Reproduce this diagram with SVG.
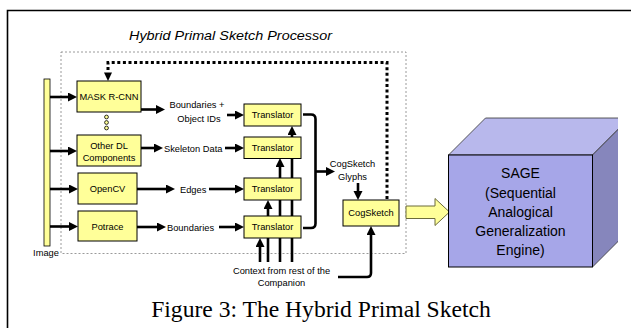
<svg xmlns="http://www.w3.org/2000/svg" width="631" height="328" viewBox="0 0 631 328">
<style>
.box{fill:#FFFF99;stroke:#000;stroke-width:1}
.t{font-family:"Liberation Sans",Arial,sans-serif;font-size:9.3px;fill:#000}
.c{text-anchor:middle}
.ar{fill:none;stroke:#000;stroke-width:2.6;marker-end:url(#ah)}
.ln{fill:none;stroke:#000;stroke-width:2.6}
.sage{font-family:"Liberation Sans",Arial,sans-serif;font-size:14px;text-anchor:middle;fill:#000}
</style>
<defs>
<marker id="ah" markerUnits="userSpaceOnUse" markerWidth="10" markerHeight="10" refX="1" refY="4.5" orient="auto">
<path d="M0,0 L9,4.5 L0,9 z" fill="#000"/>
</marker>
<marker id="ahs" markerUnits="userSpaceOnUse" markerWidth="9" markerHeight="9" refX="1" refY="3.75" orient="auto">
<path d="M0,0 L8,3.75 L0,7.5 z" fill="#000"/>
</marker>
<clipPath id="cubeclip"><rect x="440" y="100" width="178" height="180"/></clipPath>
</defs>
<rect x="0" y="0" width="631" height="328" fill="#fff"/>
<path d="M7.5,330 V10.5 H633" fill="none" stroke="#000" stroke-width="1.6"/>
<text x="129" y="39.5" font-family="'Liberation Sans',Arial,sans-serif" font-size="13.5" font-style="italic" textLength="203" lengthAdjust="spacingAndGlyphs">Hybrid Primal Sketch Processor</text>
<rect id="processor" x="61" y="52" width="345" height="201.5" fill="none" stroke="#808080" stroke-width="0.8" stroke-dasharray="2,2"/>

<g id="connectors">
<!-- from image bar -->
<path class="ar" d="M50,97 H69"/>
<path class="ar" d="M50,151 H69"/>
<path class="ar" d="M50,189 H70"/>
<path class="ar" d="M50,226.5 H70"/>
<!-- outputs of detectors -->
<path class="ar" d="M141,109.5 H157"/>
<path class="ar" d="M141,148 H155"/>
<path class="ar" d="M137,189 H167"/>
<path class="ar" d="M137,227 H158"/>
<!-- into translators -->
<path class="ar" d="M227,115 H236"/>
<path class="ar" d="M225,148 H236"/>
<path class="ar" d="M209,189 H236"/>
<path class="ar" d="M219,227 H236"/>
<!-- context lines from the bottom -->
<path class="ar" d="M260,262 V246"/>
<path class="ar" d="M268,262 V208"/>
<path class="ar" d="M280,262 V166"/>
<path class="ar" d="M292,262 V134"/>
<!-- brace to glyphs -->
<path class="ln" d="M303,114.5 H311 Q315.5,114.5 315.5,119 V223.5 Q315.5,228 311,228 H303"/>
<path class="ar" d="M315.5,171.5 H327"/>
<!-- glyphs to CogSketch -->
<path class="ar" d="M358,183 V192"/>
<!-- context to CogSketch -->
<path class="ar" d="M338,277 H367 Q371,277 371,273 V234"/>
<!-- feedback dotted -->
<path d="M387,199 V62.5 H108 V72" fill="none" stroke="#000" stroke-width="3" stroke-dasharray="3,2.6"/>
<path d="M104,72.5 L112,72.5 L108,81 z" fill="#000"/>
</g>

<g id="image">
<rect x="44" y="79" width="6" height="167" fill="#FFFF99" stroke="#000" stroke-width="0.8"/>
<text class="t c" x="46" y="255.7">Image</text>
</g>

<g id="maskrcnn">
<rect class="box" x="77" y="81" width="64" height="31"/>
<text class="t c" x="109" y="100">MASK R-CNN</text>
</g>
<g id="dots">
<circle cx="106.5" cy="117" r="1.9" fill="#FFFF99" stroke="#000" stroke-width="0.8"/>
<circle cx="106.5" cy="122.5" r="1.9" fill="#FFFF99" stroke="#000" stroke-width="0.8"/>
<circle cx="106.5" cy="128" r="1.9" fill="#FFFF99" stroke="#000" stroke-width="0.8"/>
</g>
<g id="otherdl">
<rect class="box" x="77" y="135" width="64" height="31"/>
<text class="t c" x="109" y="149">Other DL</text>
<text class="t c" x="109" y="160.8">Components</text>
</g>
<g id="opencv">
<rect class="box" x="78" y="173" width="59" height="31"/>
<text class="t c" x="107.5" y="192">OpenCV</text>
</g>
<g id="potrace">
<rect class="box" x="78" y="211" width="59" height="30"/>
<text class="t c" x="107.5" y="229.5">Potrace</text>
</g>

<g id="labels">
<text class="t c" x="197" y="108">Boundaries +</text>
<text class="t c" x="199" y="121.5">Object IDs</text>
<text class="t" x="164" y="151.5">Skeleton Data</text>
<text class="t" x="180" y="192.5">Edges</text>
<text class="t" x="167" y="230.5">Boundaries</text>
<text class="t c" x="352.5" y="166.5">CogSketch</text>
<text class="t c" x="352.5" y="179.5">Glyphs</text>
<text class="t c" x="281.5" y="274">Context from rest of the</text>
<text class="t c" x="281.5" y="286">Companion</text>
</g>

<g id="translator1">
<rect class="box" x="244" y="104" width="57" height="22"/>
<text class="t c" x="272.5" y="118.3">Translator</text>
</g>
<g id="translator2">
<rect class="box" x="244" y="137" width="57" height="21.5"/>
<text class="t c" x="272.5" y="151">Translator</text>
</g>
<g id="translator3">
<rect class="box" x="244" y="178" width="57" height="22"/>
<text class="t c" x="272.5" y="192.3">Translator</text>
</g>
<g id="translator4">
<rect class="box" x="244" y="216" width="57" height="22"/>
<text class="t c" x="272.5" y="230.3">Translator</text>
</g>

<g id="cogsketch">
<rect class="box" x="343" y="200" width="56" height="26"/>
<text class="t c" x="371" y="216">CogSketch</text>
</g>

<g id="blockarrow">
<polygon points="406,206 435,206 435,198.5 449.5,212 435,225.5 435,218.5 406,218.5" fill="#FFFF99" stroke="#6b6b3a" stroke-width="1"/>
</g>

<g id="sage">
<g clip-path="url(#cubeclip)">
<polygon points="448.5,155 485.5,118 629.5,118 592.5,155" fill="#B8B8EC" stroke="#333" stroke-width="0.8"/>
<polygon points="592.5,155 629.5,118 629.5,230 592.5,267" fill="#8686BC" stroke="#333" stroke-width="0.8"/>
</g>
<rect x="448.5" y="155" width="144" height="112" fill="#A6A6E8" stroke="#000" stroke-width="1"/>
<text class="sage" x="520.5" y="178.3">SAGE</text>
<text class="sage" x="520.5" y="197.5">(Sequential</text>
<text class="sage" x="520.5" y="216.8">Analogical</text>
<text class="sage" x="520.5" y="236">Generalization</text>
<text class="sage" x="520.5" y="255.3">Engine)</text>
</g>

<text x="321" y="317.3" font-family="'Liberation Serif','Times New Roman',serif" font-size="23.6" text-anchor="middle">Figure 3: The Hybrid Primal Sketch</text>
</svg>
